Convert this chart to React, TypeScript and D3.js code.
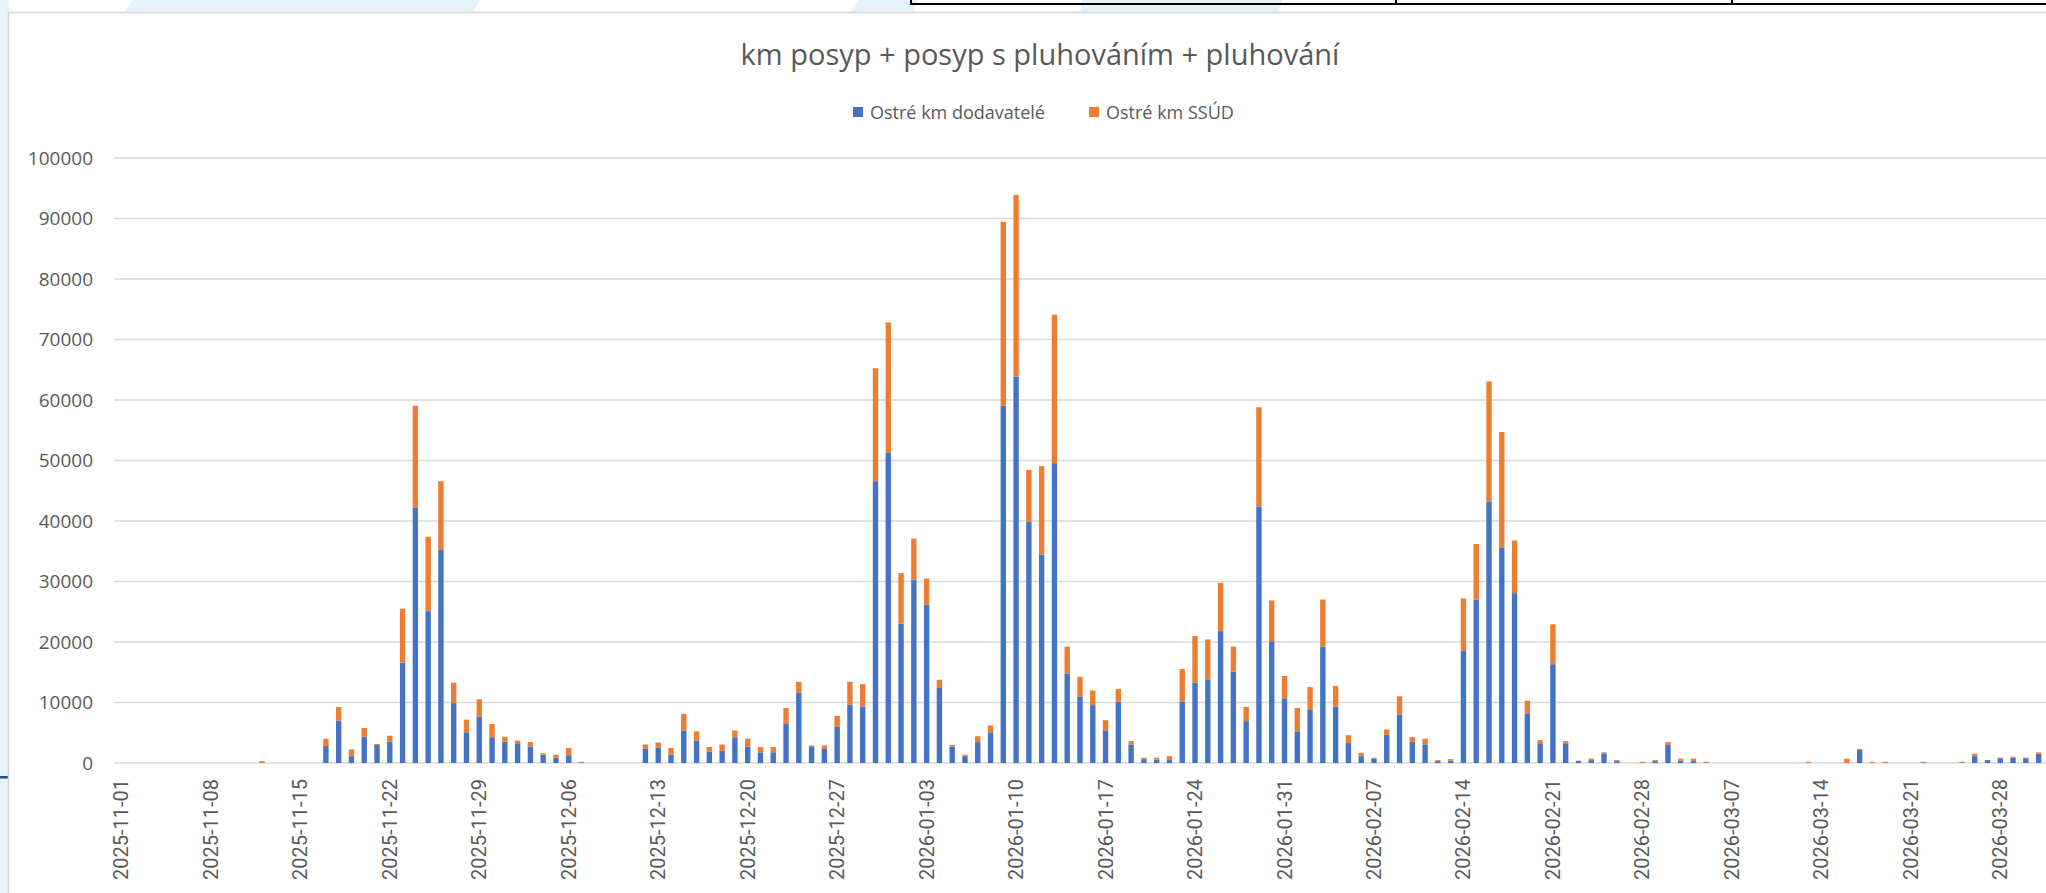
import React, { useEffect, useRef } from 'react';
import * as d3 from 'd3';

// categories: one bar per day, 2025-11-01 .. 2026-03-31
const startDate = new Date(2025, 10, 1);
const endDate = new Date(2026, 3, 1);
const formatDay = d3.timeFormat('%Y-%m-%d');
const categories = d3.timeDay.range(startDate, endDate).map(d => formatDay(d));

// Ostré km dodavatelé (blue)
const dodavatele = [
  // Nov
  0, 0, 0, 0, 0, 0, 0, 0, 0, 0, 0, 0, 0, 0, 0, 0, 2800, 7000, 1130, 4340,
  2980, 3540, 16570, 42240, 25100, 35240, 9900, 5070, 7640, 4260,
  // Dec
  3540, 3140, 2740, 1370, 880, 1290, 0, 0, 0, 0, 0, 2330, 2570, 1370, 5390, 3700,
  1850, 2010, 4260, 2740, 1770, 1770, 6440, 11670, 2650, 2330, 5950, 9650, 9330, 46580, 51250,
  // Jan
  23010, 30330, 26150, 12390, 2740, 1130, 3460, 5070, 59050, 63880, 39900, 34430, 49560, 14800, 10940, 9570,
  5390, 10140, 3060, 640, 560, 480, 10140, 13270, 13840, 21800, 15120, 6920, 42400, 20110, 10700,
  // Feb
  5230, 8770, 19230, 9330, 3300, 1130, 720, 4670, 7960, 3460, 3060, 320, 400, 18500,
  27030, 43200, 35640, 28080, 8210, 3140, 16330, 3140, 320, 480, 1610, 320, 0, 0,
  // Mar
  320, 2980, 400, 320, 0, 0, 0, 0, 0, 0, 0, 0, 0, 0, 0, 0,
  2170, 0, 0, 0, 0, 0, 0, 0, 0, 1130, 480, 800, 880, 800, 1530,
];

// Ostré km SSÚD (orange)
const ssud = [
  // Nov
  0, 0, 0, 0, 0, 0, 0, 0, 0, 0, 0, 300, 0, 0, 0, 0, 1200, 2250, 1120, 1450,
  160, 960, 8930, 16810, 12300, 11340, 3370, 2090, 2900, 2180,
  // Dec
  800, 560, 720, 240, 490, 1200, 200, 0, 0, 0, 0, 730, 810, 1120, 2740, 1530,
  800, 1050, 1130, 1280, 880, 880, 2650, 1760, 250, 570, 1850, 3780, 3700, 18670, 21560,
  // Jan
  8370, 6760, 4340, 1370, 240, 240, 960, 1120, 30410, 30010, 8530, 14640, 24540, 4430, 3300, 2420,
  1690, 2090, 560, 240, 320, 650, 5390, 7730, 6590, 7970, 4110, 2330, 16410, 6760, 3700,
  // Feb
  3860, 3780, 7800, 3380, 1290, 560, 160, 880, 3060, 800, 960, 160, 240, 8690,
  9170, 19870, 19070, 8690, 2090, 640, 6600, 480, 80, 240, 160, 160, 0, 200,
  // Mar
  160, 480, 320, 400, 200, 0, 0, 0, 0, 0, 0, 0, 200, 0, 0, 720,
  160, 200, 200, 0, 0, 200, 0, 0, 200, 400, 0, 80, 170, 80, 240,
];

const yTicks = [0, 10000, 20000, 30000, 40000, 50000, 60000, 70000, 80000, 90000, 100000];
const xTickLabels = categories.filter((_, i) => i % 7 === 0);
const seriesNames = ['Ostré km dodavatelé', 'Ostré km SSÚD'];
const seriesColors = ['#4472C4', '#ED7D31'];
const chartTitle = 'km posyp + posyp s pluhováním + pluhování';

const App: React.FC = () => {
  const svgRef = useRef<SVGSVGElement>(null);
  const width = 2046;
  const height = 893;

  useEffect(() => {
    if (!svgRef.current) return;
    const svg = d3.select(svgRef.current);
    svg.selectAll('*').remove();

    const textColor = '#595959';
    const plot = { left: 115, right: 2045, top: 158, bottom: 763 };

    // page background with the light blue stripes
    svg.append('rect').attr('width', width).attr('height', height).attr('fill', '#ffffff');
    const stripe = '#e4f2fa';
    [
      [[132, 0], [480, 0], [472, 14], [124, 14]],
      [[858, 0], [918, 0], [912, 14], [850, 14]],
      [[1082, 0], [1282, 0], [1278, 14], [1080, 14]],
    ].forEach(p => {
      svg.append('polygon').attr('points', p.map(q => q.join(',')).join(' ')).attr('fill', stripe);
    });
    svg.append('rect').attr('x', 0).attr('y', 0).attr('width', 9).attr('height', height).attr('fill', stripe);

    // table lines peeking in at the top
    svg.append('path')
      .attr('d', 'M911,0 V4 H2046 M1396,0 V4 M1732,0 V4')
      .attr('fill', 'none').attr('stroke', '#000').attr('stroke-width', 2);
    svg.append('rect').attr('x', 0).attr('y', 776).attr('width', 9).attr('height', 2.5).attr('fill', '#1f4e79');

    // chart area
    svg.append('rect')
      .attr('x', 8.5).attr('y', 12.5).attr('width', 2100).attr('height', 1000)
      .attr('fill', '#fff').attr('stroke', '#d4d4d4').attr('stroke-width', 1.5);

    const x = d3.scaleBand<string>()
      .domain(categories)
      .range([plot.left, plot.right])
      .paddingInner(0.58)
      .paddingOuter(0.29);

    const y = d3.scaleLinear()
      .domain([0, 100000])
      .range([plot.bottom, plot.top]);

    // title
    svg.append('text')
      .attr('x', 1040).attr('y', 65)
      .attr('text-anchor', 'middle')
      .style('font-family', '"Open Sans", sans-serif')
      .style('font-size', '29px')
      .attr('fill', textColor)
      .text(chartTitle);

    // legend
    const legendX = [853, 1089];
    seriesNames.forEach((name, i) => {
      svg.append('rect')
        .attr('x', legendX[i]).attr('y', 107).attr('width', 10).attr('height', 10)
        .attr('fill', seriesColors[i]);
      svg.append('text')
        .attr('x', legendX[i] + 17).attr('y', 118.5)
        .style('font-family', '"Open Sans", sans-serif')
        .style('font-size', '18px')
        .attr('fill', textColor)
        .text(name);
    });

    // gridlines + y labels
    const g = svg.append('g');
    g.selectAll('.grid')
      .data(yTicks)
      .enter().append('line')
      .attr('x1', plot.left - 1).attr('x2', width)
      .attr('y1', d => y(d)).attr('y2', d => y(d))
      .attr('stroke', '#d9d9d9').attr('stroke-width', 1.5);

    g.selectAll('.ylab')
      .data(yTicks)
      .enter().append('text')
      .attr('x', 93).attr('y', d => y(d))
      .attr('dy', '0.35em')
      .attr('text-anchor', 'end')
      .style('font-family', '"Open Sans", sans-serif')
      .style('font-size', '19px')
      .attr('fill', textColor)
      .text(d => String(d));

    // stacked bars
    const rows = categories.map((c, i) => ({ date: c, dodavatele: dodavatele[i], ssud: ssud[i] }));
    const stack = d3.stack<any>().keys(['dodavatele', 'ssud'])(rows);
    stack.forEach((layer, i) => {
      g.append('g')
        .attr('fill', seriesColors[i])
        .selectAll('rect')
        .data(layer)
        .enter().append('rect')
        .attr('x', d => x(d.data.date)!)
        .attr('width', x.bandwidth())
        .attr('y', d => y(d[1]))
        .attr('height', d => Math.max(0, y(d[0]) - y(d[1])));
    });

    // x labels
    g.selectAll('.xlab')
      .data(xTickLabels)
      .enter().append('text')
      .attr('transform', d => `translate(${x(d)! + x.bandwidth() / 2}, 779) rotate(-90)`)
      .attr('dy', '0.35em')
      .attr('text-anchor', 'end')
      .style('font-family', 'Roboto, sans-serif')
      .style('font-size', '20px')
      .attr('fill', textColor)
      .text(d => d);
  }, []);

  return (
    <svg
      ref={svgRef}
      width={width}
      height={height}
      style={{ position: 'absolute', left: 0, top: 0, display: 'block' }}
    />
  );
};

export default App;
